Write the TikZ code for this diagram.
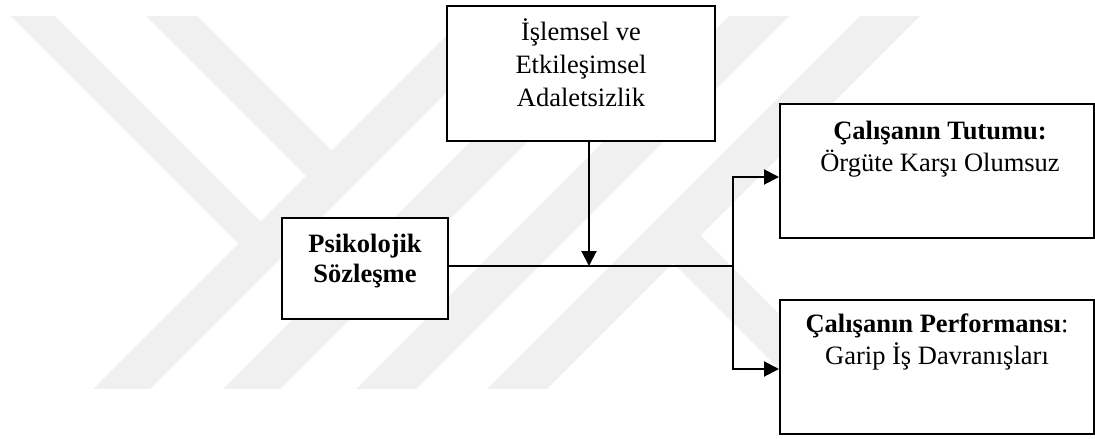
\documentclass[tikz,border=0pt]{standalone}
\usepackage{fontspec}
\setmainfont{Liberation Serif}
\usetikzlibrary{arrows.meta,calc}
\begin{document}
\begin{tikzpicture}[x=1pt,y=-1pt,
  box/.style={draw=black, line width=2pt, fill=white, rectangle, inner sep=0pt},
  txt/.style={inner sep=0pt, align=center, anchor=north},
  conn/.style={line width=2pt, draw=black},
  arr/.style={conn, -{Triangle[length=15pt,width=15pt]}},
  wm/.style={fill=black!6, draw=none}]
\useasboundingbox (0,0) rectangle (1095,439);
% watermark
\begin{scope}
\clip (-10,16) rectangle (1105,388);
\fill[wm] (-5,0) -- (39,0) -- (274.5,235.5) -- (252.5,257.5) -- cycle;
\fill[wm] (130,0) -- (181,0) -- (345.5,164.5) -- (320,190) -- cycle;
\fill[wm] (482,0) -- (539,0) -- (100,439) -- (43,439) -- cycle;
\fill[wm] (612,0) -- (669,0) -- (230,439) -- (173,439) -- cycle;
\fill[wm] (745,0) -- (805,0) -- (366,439) -- (306,439) -- cycle;
\fill[wm] (876,0) -- (936,0) -- (497,439) -- (437,439) -- cycle;
\fill[wm] (660,250) -- (687.5,222.5) -- (904,439) -- (849,439) -- cycle;
\end{scope}
% boxes
\node[box, minimum width=268pt, minimum height=135pt] (adl) at (581,73.5) {};
\node[box, minimum width=166pt, minimum height=101pt] (psk) at (365,268.5) {};
\node[box, minimum width=314pt, minimum height=134pt] (tut) at (937,171) {};
\node[box, minimum width=314pt, minimum height=134pt] (perf) at (937,367) {};
% texts
\node[txt, font=\fontsize{26.5}{33}\selectfont] (adlT) at ([yshift=-11.9pt]adl.north) {\strut İşlemsel ve\\Etkileşimsel\\Adaletsizlik};
\node[txt, font=\fontsize{26.5}{30}\selectfont\bfseries] (pskT) at ([yshift=-14pt]psk.north) {\strut Psikolojik\\Sözleşme};
\node[txt, font=\fontsize{26.5}{32}\selectfont] (tutT) at ([xshift=3pt,yshift=-13.6pt]tut.north) {\strut\textbf{Çalışanın Tutumu:}\\Örgüte Karşı Olumsuz};
\node[txt, font=\fontsize{26.5}{32}\selectfont] (perfT) at ([yshift=-10.6pt]perf.north) {\strut\textbf{Çalışanın Performansı}:\\Garip İş Davranışları};
% connectors
\coordinate (j) at (589,266);
\coordinate (br) at (733,266);
\coordinate (b1) at (733,177);
\coordinate (b2) at (733,369);
\draw[conn] (psk.east |- j) -- (br);
\draw[arr] (adl.south -| j) -- (j);
\draw[arr] (br) -- (b1) -- (b1 -| tut.west);
\draw[arr] (br) -- (b2) -- (b2 -| perf.west);
\end{tikzpicture}
\end{document}
